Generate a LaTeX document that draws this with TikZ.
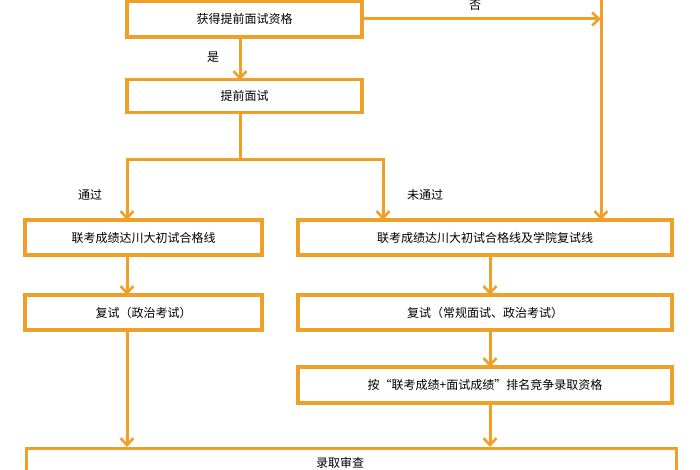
\documentclass[tikz,border=0pt]{standalone}
\usepackage{fontspec}
\setmainfont{Noto Sans CJK SC}
\usetikzlibrary{arrows.meta}
\definecolor{org}{HTML}{F0A028}
\begin{document}
\begin{tikzpicture}[x=1pt,y=-1pt,
  bx/.style={draw=org,line width=3.2pt,minimum height=33pt,inner sep=0pt,font=\fontsize{12}{14}\selectfont},
  ar/.style={draw=org,line width=3pt,-{Straight Barb[length=7pt,width=13pt,line width=2.6pt]}},
  ln/.style={draw=org,line width=3pt},
  lb/.style={font=\fontsize{12}{14}\selectfont}]
\useasboundingbox (0,0) rectangle (700,470);
\clip (0,0) rectangle (700,470);
\node[bx,minimum width=235pt,minimum height=36pt] (b1) at (244.5,19) {获得提前面试资格};
\node[bx,minimum width=235pt] (b2) at (244.5,96) {提前面试};
\node[bx,minimum width=237pt,minimum height=35pt] (b3) at (143.5,237.5) {联考成绩达川大初试合格线};
\node[bx,minimum width=374pt,minimum height=35pt] (b4) at (485,237.5) {联考成绩达川大初试合格线及学院复试线};
\node[bx,minimum width=237pt,minimum height=35pt] (b5) at (143.5,312.5) {复试（政治考试）};
\node[bx,minimum width=374pt,minimum height=35pt] (b6) at (485,312.5) {复试（常规面试、政治考试）};
\node[bx,minimum width=374pt,minimum height=36pt] (b7) at (485,385) {按“联考成绩+面试成绩”排名竞争录取资格};
\node[bx,minimum width=650pt,minimum height=36pt,anchor=north west] (b8) at (25,447) {};
\node[lb] (t8) at (340,463) {录取审查};
\coordinate (top) at (601,-5);
\coordinate (jn) at (601,19);
\draw[ar] (b1.east) -- (jn);
\draw[ln] (top) -- (jn);
\draw[ar] (jn) -- (601,220);
\node[lb] (no) at (475,5) {否};
\draw[ar] (240,37) -- (240,80);
\node[lb] (yes) at (213,57) {是};
\coordinate (s) at (240,160);
\draw[ln] (240,112) -- (s);
\draw[ar] (127,160) -- (127,220);
\draw[ar] (383,160) -- (383,220);
\draw[ln] (125.5,160) -- (384.5,160);
\node[lb] (p) at (90,195) {通过};
\node[lb] (np) at (425,195) {未通过};
\draw[ar] (127,255) -- (127,295);
\draw[ar] (490,255) -- (490,295);
\draw[ar] (490,330) -- (490,367);
\draw[ar] (127,330) -- (127,447);
\draw[ar] (490,403) -- (490,447);
\end{tikzpicture}
\end{document}
